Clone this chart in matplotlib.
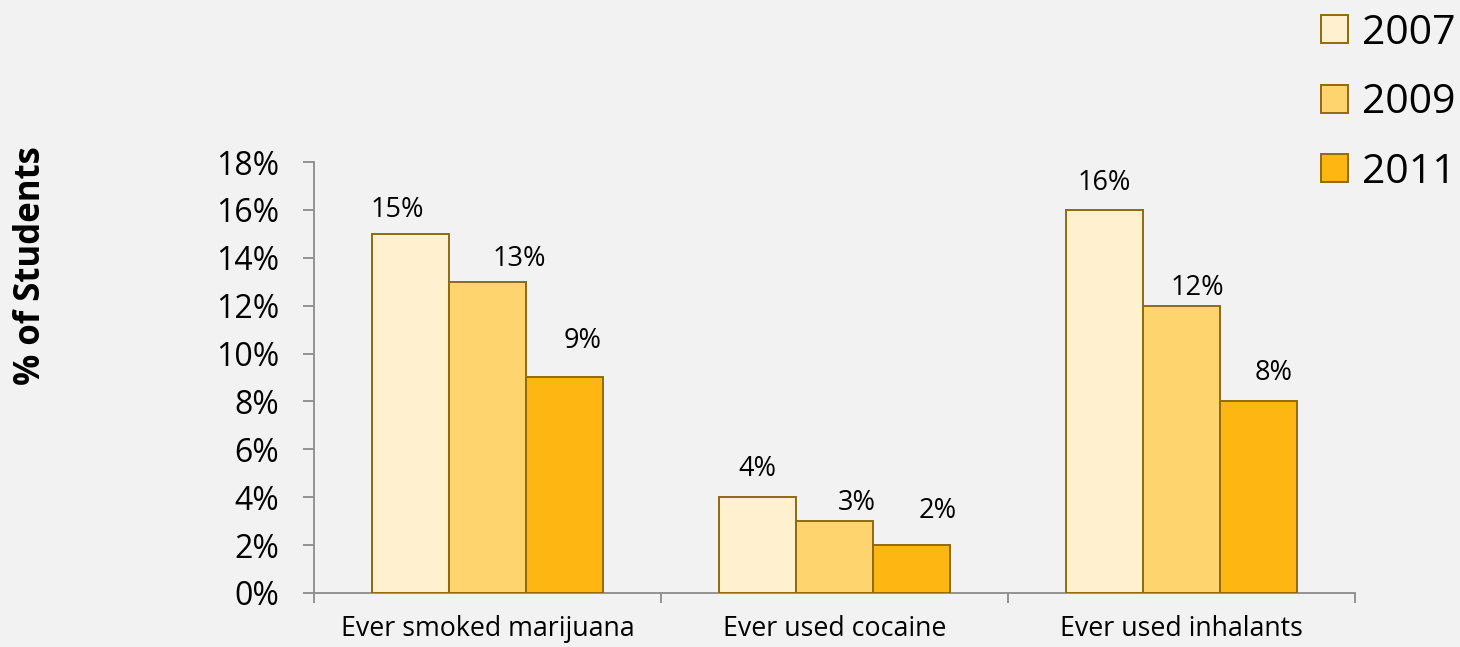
import numpy as np
import matplotlib
matplotlib.use("Agg")
import matplotlib.pyplot as plt
from matplotlib.ticker import FuncFormatter

# data
categories = ["Ever smoked marijuana", "Ever used cocaine", "Ever used inhalants"]
years = ["2007", "2009", "2011"]
pct_2007 = [15, 4, 16]
pct_2009 = [13, 3, 12]
pct_2011 = [9, 2, 8]
yticks = [0, 2, 4, 6, 8, 10, 12, 14, 16, 18]

# hand-placed label nudges (pixels), per year series, per category
lab_dx = [[-13, 0, 0], [32, 22, 16], [18, 26, 15]]
lab_dy = [[17, 21, 20], [16, 11, 11], [29, 27, 21]]

colors = ["#FFF1CF", "#FDD46E", "#FEB712"]
edge = "#916A0E"
bg = "#F2F2F2"
axis_col = "#8C8C8C"

plt.rcParams['font.family'] = ['Open Sans', 'DejaVu Sans']

fig = plt.figure(figsize=(14.6, 6.47), dpi=100, facecolor=bg)
ax = fig.add_axes([0.2151, 0.0835, 0.7130, 0.6661])
ax.set_facecolor(bg)

x = np.arange(len(categories))
w = 0.222
series = [pct_2007, pct_2009, pct_2011]
for i, vals in enumerate(series):
	pos = x + (i - 1) * w
	ax.bar(pos, vals, width=w, color=colors[i], edgecolor=edge, lw=1.4, label=years[i], zorder=3)
	for j, (xp, v) in enumerate(zip(pos, vals)):
		ax.annotate("%d%%" % v, (xp, v), xytext=(lab_dx[i][j], lab_dy[i][j]), textcoords='offset pixels',
			ha='center', va='baseline', fontsize=19.5)

ax.set_xlim(-0.5, 2.5)
ax.set_ylim(0, 18)
ax.set_yticks(yticks)
ax.yaxis.set_major_formatter(FuncFormatter(lambda v, p: "%d%%" % v))
ax.set_xticks([-0.5, 0.5, 1.5, 2.5])
ax.set_xticklabels([])
ax.set_xticks(x, minor=True)
ax.set_xticklabels(categories, minor=True, fontsize=19.3)
ax.tick_params(axis='x', which='minor', length=0, pad=16)
ax.tick_params(axis='x', which='major', length=7.5, color=axis_col, width=1.3)
ax.tick_params(axis='y', length=8, color=axis_col, width=1.3, labelsize=23, pad=17)
for sp in ['top', 'right']:
	ax.spines[sp].set_visible(False)
for sp in ['left', 'bottom']:
	ax.spines[sp].set_color(axis_col)
	ax.spines[sp].set_linewidth(1.3)

fig.text(0.0212, 0.589, "% of Students", rotation=90, ha='center', va='center', fontsize=25, fontweight='bold')

leg = fig.legend(loc='upper left', bbox_to_anchor=(1321 / 1460, 1 - 13 / 647), frameon=False, fontsize=29.5,
	handlelength=0.66, handleheight=0.66, handletextpad=0.34, labelspacing=0.71, borderaxespad=0, borderpad=0)

fig.savefig("out.png", dpi=100, facecolor=bg)
